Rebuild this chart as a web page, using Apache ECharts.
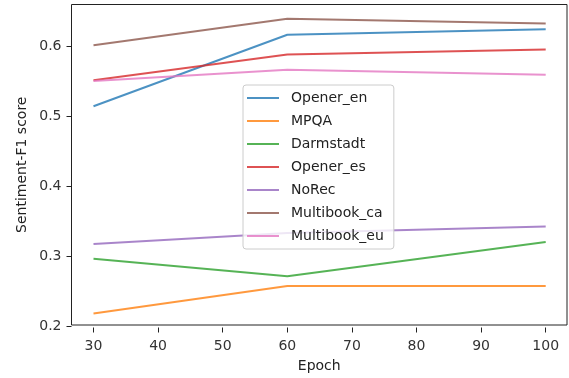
<!DOCTYPE html>
<html>
<head>
<meta charset="utf-8">
<script src="https://cdn.jsdelivr.net/npm/echarts@6/dist/echarts.min.js"></script>
<style>
html,body{margin:0;padding:0;background:#fff;}
#chart{width:569px;height:378px;}
</style>
</head>
<body>
<div id="chart"></div>
<script>
// ---- data ----
const epochs = [30, 60, 100];
const seriesNames = ['Opener_en', 'MPQA', 'Darmstadt', 'Opener_es', 'NoRec', 'Multibook_ca', 'Multibook_eu'];
const openerEn    = [0.514, 0.616, 0.624];
const mpqa        = [0.218, 0.257, 0.257];
const darmstadt   = [0.296, 0.271, 0.320];
const openerEs    = [0.551, 0.588, 0.595];
const noRec       = [0.317, 0.333, 0.342];
const multibookCa = [0.601, 0.639, 0.632];
const multibookEu = [0.550, 0.566, 0.559];
const xTicks = [30, 40, 50, 60, 70, 80, 90, 100];
const yTicks = [0.2, 0.3, 0.4, 0.5, 0.6];
const xLabel = 'Epoch';
const yLabel = 'Sentiment-F1 score';
const colors = ['#1f77b4', '#ff7f0e', '#2ca02c', '#d62728', '#9467bd', '#8c564b', '#e377c2'];

const allValues = [openerEn, mpqa, darmstadt, openerEs, noRec, multibookCa, multibookEu];
const FONT = 'DejaVu Sans';
const FS = 14;

const chart = echarts.init(document.getElementById('chart'), null, {renderer: 'canvas'});

const series = seriesNames.map((name, i) => ({
  name: name,
  type: 'line',
  xAxisIndex: 0,
  yAxisIndex: 0,
  data: epochs.map((e, j) => [e, allValues[i][j]]),
  symbol: 'none',
  clip: false,
  lineStyle: {width: 2, color: colors[i], opacity: 0.8},
  itemStyle: {color: colors[i], opacity: 0.8},
  emphasis: {disabled: true},
  animation: false
}));

chart.setOption({
  animation: false,
  backgroundColor: '#fff',
  grid: [
    {left: 93.5, right: 23.3, top: 46, bottom: 52, containLabel: false},
    {left: 71.5, right: 2, top: 4.5, bottom: 50.5, containLabel: false, show: true, borderColor: '#222', borderWidth: 1, backgroundColor: 'transparent'}
  ],
  xAxis: [
    {
      gridIndex: 0, type: 'value', min: xTicks[0], max: xTicks[xTicks.length - 1], interval: 10,
      offset: 1.5,
      axisLine: {show: false},
      axisTick: {show: true, inside: false, length: 5, lineStyle: {color: '#222', width: 1}},
      axisLabel: {show: true, margin: 12, color: '#333', fontFamily: FONT, fontSize: FS},
      splitLine: {show: false}
    },
    {
      gridIndex: 1, type: 'value', min: 0, max: 1,
      name: xLabel, nameLocation: 'middle', nameGap: 34,
      nameTextStyle: {color: '#222', fontFamily: FONT, fontSize: FS},
      axisLine: {show: false}, axisTick: {show: false}, axisLabel: {show: false}, splitLine: {show: false}
    }
  ],
  yAxis: [
    {
      gridIndex: 0, type: 'value', min: yTicks[0], max: yTicks[yTicks.length - 1], interval: 0.1,
      offset: 22,
      axisLine: {show: false},
      axisTick: {show: true, inside: false, length: 5, lineStyle: {color: '#222', width: 1}},
      axisLabel: {show: true, margin: 10, color: '#333', fontFamily: FONT, fontSize: FS,
        formatter: v => (Math.round(v * 10) / 10).toFixed(1)},
      splitLine: {show: false}
    },
    {
      gridIndex: 1, type: 'value', min: 0, max: 1,
      name: yLabel, nameLocation: 'middle', nameGap: 42,
      nameTextStyle: {color: '#222', fontFamily: FONT, fontSize: FS},
      axisLine: {show: false}, axisTick: {show: false}, axisLabel: {show: false}, splitLine: {show: false}
    }
  ],
  legend: {
    data: seriesNames,
    orient: 'vertical',
    left: 243,
    top: 85,
    padding: [6, 10, 6, 4],
    icon: 'rect',
    itemWidth: 32,
    itemHeight: 2,
    itemGap: 9,
    itemStyle: {opacity: 0.8},
    backgroundColor: 'rgba(255,255,255,0.8)',
    borderColor: '#cccccc',
    borderWidth: 1,
    borderRadius: 3,
    selectedMode: false,
    textStyle: {color: '#222', fontFamily: FONT, fontSize: FS, lineHeight: 14, padding: [0, 0, 0, 7]},
    z: 10
  },
  series: series
});
</script>
</body>
</html>
